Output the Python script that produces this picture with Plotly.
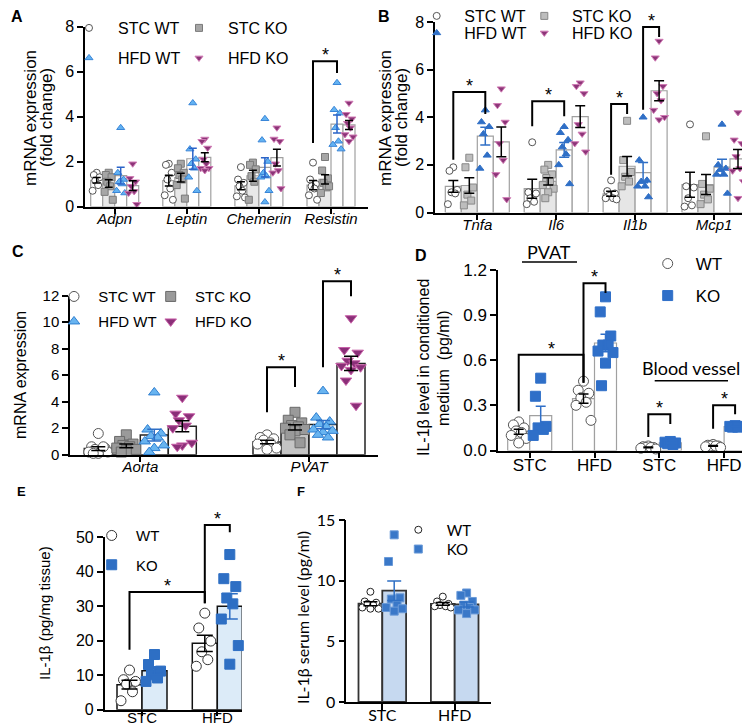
import numpy as np
import plotly.graph_objects as go

W, H = 750, 728
FONT = "Liberation Sans, Arial, sans-serif"
FONT2 = "Lato, Liberation Sans, sans-serif"

# ---------------- DATA ----------------
A_genes = ["Adpn", "Leptin", "Chemerin", "Resistin"]
A_stc_wt = [[1.5, 1.4, 1.3, 1.15, 0.95, 0.7], [1.9, 1.85, 1.5, 1.2, 0.8, 0.5, 0.3],
            [1.75, 1.2, 1.05, 0.9, 0.7, 0.45, 0.4], [1.95, 1.2, 1.0, 0.9, 0.8, 0.5, 0.3]]
A_stc_ko = [[1.5, 1.4, 1.3, 1.1, 0.9, 0.65, 0.3], [1.9, 1.7, 1.5, 1.4, 1.2, 0.95, 0.35],
            [1.95, 1.85, 1.65, 1.35, 1.1, 0.3], [2.2, 1.6, 1.25, 1.05, 0.85, 0.6, 0.9]]
A_hfd_wt = [[3.5, 1.5, 1.2, 1.1, 1.0, 0.7, 0.6], [4.6, 2.55, 2.1, 1.9, 1.7, 1.3, 0.7],
            [3.9, 2.95, 2.0, 1.5, 1.35, 1.3, 0.7, 0.2], [5.5, 4.3, 4.15, 3.5, 2.9, 2.75, 2.55]]
A_hfd_ko = [[1.9, 1.25, 1.1, 0.9, 0.67, 0.6, 0.1], [3.0, 2.9, 2.6, 2.1, 1.9, 1.7, 1.7, 1.6],
            [3.5, 3.0, 2.9, 1.9, 1.6, 1.5, 0.8], [4.6, 4.1, 3.9, 3.7, 3.5, 3.2, 3.1, 2.9]]

B_genes = ["Tnfa", "Il6", "Il1b", "Mcp1"]
B_stc_wt = [[1.9, 1.75, 0.95, 0.85, 0.8, 0.35], [2.95, 0.85, 0.8, 0.6, 0.45, 0.35],
            [1.35, 0.9, 0.8, 0.7, 0.6, 0.6, 0.55], [3.7, 1.1, 1.05, 0.6, 0.3, 0.25]]
B_stc_ko = [[2.3, 1.9, 1.05, 0.75, 0.5, 0.3], [2.0, 1.8, 1.6, 1.45, 1.3, 1.15, 1.0, 0.85, 0.6],
            [3.85, 2.2, 1.7, 1.5, 1.3, 1.1], [3.2, 1.2, 1.0, 0.75, 0.55, 0.35]]
B_hfd_wt = [[4.3, 3.8, 3.6, 3.3, 2.4, 1.85], [3.6, 3.35, 3.05, 2.75, 2.45, 2.0, 1.2],
            [4.0, 2.2, 1.35, 1.3, 1.1, 1.1, 0.65], [3.7, 2.0, 1.85, 1.8, 1.6, 1.6, 0.8]]
B_hfd_ko = [[5.2, 4.5, 3.8, 2.9, 2.2, 1.6, 0.55], [5.45, 5.3, 5.0, 3.7, 3.3, 2.9, 2.55],
            [7.2, 6.5, 5.3, 5.0, 4.7, 4.3, 4.0, 3.9], [4.2, 3.05, 2.9, 2.35, 1.85, 1.75, 1.3, 0.6]]

C_tissues = ["Aorta", "PVAT"]
C_stc_wt = [[1.6, 0.6, 0.5, 0.4, 0.3, 0.2, 0.2, 0.1, 0.1, 0.6], [1.5, 1.3, 1.2, 1.1, 0.9, 0.8, 0.5, 0.4]]
C_stc_ko = [[1.5, 1.0, 0.8, 0.7, 0.6, 0.5, 0.4, 0.3, 0.2], [3.2, 2.6, 2.4, 2.2, 2.1, 2.0, 1.9, 1.8, 1.5, 0.9]]
C_hfd_wt = [[4.7, 1.9, 1.6, 1.4, 1.3, 1.0, 0.7, 0.5, 0.2], [4.8, 2.8, 2.5, 2.3, 2.1, 1.9, 1.8, 1.7, 1.5, 1.3]]
C_hfd_ko = [[4.3, 3.1, 2.9, 2.6, 2.2, 2.0, 0.9, 0.7, 0.6], [10.3, 7.9, 7.7, 7.1, 6.9, 6.7, 6.6, 6.4, 5.6, 3.7]]

D_groups = ["STC", "HFD", "STC", "HFD"]
D_wt = [[0.19, 0.17, 0.15, 0.13, 0.12, 0.10, 0.08, 0.05], [0.46, 0.40, 0.38, 0.35, 0.32, 0.30, 0.20],
        [0.03, 0.025, 0.02, 0.02, 0.02, 0.015, 0.01], [0.04, 0.035, 0.03, 0.03, 0.03, 0.025, 0.02]]
D_ko = [[0.48, 0.36, 0.16, 0.15, 0.14, 0.10], [1.02, 0.92, 0.76, 0.70, 0.70, 0.66, 0.65, 0.58, 0.43],
        [0.06, 0.055, 0.05, 0.045, 0.04], [0.165, 0.16, 0.16, 0.155, 0.155]]

E_groups = ["STC", "HFD"]
E_wt = [[11.5, 8.7, 8.2, 7.4, 5.2, 2.6], [28.0, 23.7, 19.9, 16.8, 14.5, 12.6]]
E_ko = [[16.0, 13.1, 11.2, 10.1, 9.2, 8.2], [45.0, 38.0, 35.7, 32.4, 30.7, 26.3, 18.6, 13.2]]

F_groups = ["STC", "HFD"]
F_wt = [[9.1, 8.3, 8.2, 8.1, 8.0, 7.8, 7.7, 7.7], [8.7, 8.3, 8.1, 8.0, 7.9, 7.9, 7.8]]
F_ko = [[13.8, 11.6, 8.6, 8.5, 8.0, 7.8, 7.7, 7.5], [9.0, 8.8, 8.3, 8.0, 7.8, 7.6, 7.6, 7.3]]

# significance brackets: (group1, series1, y1, group2, series2, y2, top)
A_sig = [(3, 0, 2.82, 3, 2, 5.93, 6.45)]
B_sig = [(0, 0, 2.22, 0, 2, 4.14, 5.06), (1, 0, 3.62, 1, 2, 4.04, 4.67),
         (2, 0, 1.59, 2, 1, 4.14, 4.56), (2, 2, 4.32, 2, 3, 7.37, 7.79)]
C_sig = [(1, 0, 3.2, 1, 1, 5.1, 6.6), (1, 2, 6.6, 1, 3, 11.95, 13.1)]
D_sig = [(0, 0, 0.26, 1, 0, 0.45, 0.636), (1, 0, 0.45, 1, 1, 1.045, 1.11),
         (2, 0, 0.09, 2, 1, 0.176, 0.24), (3, 0, 0.145, 3, 1, 0.24, 0.30)]
E_sig = [(0, 0, 17.4, 1, 0, 30.9, 34.1), (1, 0, 30.9, 1, 1, 51.5, 53.6)]

# ---------------- LAYOUT GEOMETRY (px) ----------------
# name: (axis_left, axis_right, first_group_px, group_spacing_px, bar_px, y_top_px, y_bottom_px, ymax)
GEOM = {
    "A": (77, 360, 106.7, 72.1, 12, 18.5, 198.5, 8),
    "B": (427, 745, 469.3, 78.9, 16, 14, 204.5, 8),
    "C": (62, 370, 132.3, 168.7, 28, 287.7, 446.7, 12),
    "D": (490, 748, 521.7, 64.8, 22, 261.7, 442.5, 1.2),
    "E": (96.7, 234, 134, 75.3, 25, 529.3, 701.7, 50),
    "F": (338.3, 483.3, 374.3, 72.4, 23.8, 512.3, 694, 15),
}
AX = {"A": ("x", "y"), "B": ("x2", "y2"), "C": ("x3", "y3"), "D": ("x4", "y4"),
      "E": ("x5", "y5"), "F": ("x6", "y6")}

JIT = [0.0, -0.6, 0.6, -0.3, 0.3, -0.85, 0.85, 0.0, -0.45, 0.45]

fig = go.Figure()


def bar_w(p):
    g = GEOM[p]
    return g[4] / g[3]


def add_grouped(p, series, edge, ew, cap, jscale=0.8):
    xa, ya = AX[p]
    w = bar_w(p)
    n = len(series)
    for k, s in enumerate(series):
        off = (k - (n - 1) / 2) * w
        vals = s["data"]
        xb = [g + off for g in range(len(vals))]
        means = [float(np.mean(v)) for v in vals]
        sems = [float(np.std(v, ddof=1) / np.sqrt(len(v))) for v in vals]
        fig.add_trace(go.Bar(x=xb, y=means, width=w, xaxis=xa, yaxis=ya,
                             marker=dict(color=s["fill"], line=dict(color=edge, width=ew)),
                             showlegend=False, hoverinfo="skip"))
        xs, ys = [], []
        for g, v in enumerate(vals):
            for i, val in enumerate(v):
                xs.append(g + off + JIT[i % len(JIT)] * w / 2 * jscale)
                ys.append(val)
        fig.add_trace(go.Scatter(x=xs, y=ys, mode="markers", xaxis=xa, yaxis=ya, name=s["name"],
                                 legend=s["legend"], showlegend=True, cliponaxis=False,
                                 marker=dict(symbol=s["sym"], size=s["size"], color=s["mcol"],
                                             line=dict(color=s["mline"], width=1))))
        fig.add_trace(go.Scatter(x=xb, y=means, mode="markers", xaxis=xa, yaxis=ya, showlegend=False,
                                 hoverinfo="skip", marker=dict(size=1, color="rgba(0,0,0,0)"),
                                 error_y=dict(type="data", array=sems, color=s["ecol"], thickness=1.5,
                                              width=cap)))


def add_sig(p, sig, yax=None, nser=4):
    xa, ya = AX[p]
    if yax:
        ya = yax
    w = bar_w(p)
    for g1, k1, y1, g2, k2, y2, top in sig:
        x1 = g1 + (k1 - (nser - 1) / 2) * w
        x2 = g2 + (k2 - (nser - 1) / 2) * w
        fig.add_trace(go.Scatter(x=[x1, x1, x2, x2], y=[y1, top, top, y2], mode="lines", xaxis=xa, yaxis=ya,
                                 line=dict(color="black", width=2), showlegend=False, hoverinfo="skip"))
        fig.add_annotation(x=(x1 + x2) / 2, y=top, xref=xa, yref=ya, text="*", showarrow=False,
                           yanchor="middle", yshift=6, font=dict(size=18, family=FONT, color="black"))


# Panel A
add_grouped("A", [
    dict(name="STC WT", data=A_stc_wt, fill="white", sym="circle", size=7, mcol="white", mline="#555", ecol="black", legend="legend"),
    dict(name="STC KO", data=A_stc_ko, fill="#e8e8e8", sym="square", size=7, mcol="#a6a6a6", mline="#7a7a7a", ecol="black", legend="legend2"),
    dict(name="HFD WT", data=A_hfd_wt, fill="white", sym="triangle-up", size=7, mcol="#62b2f2", mline="#3a86d8", ecol="#2b64c8", legend="legend3"),
    dict(name="HFD KO", data=A_hfd_ko, fill="white", sym="triangle-down", size=7, mcol="#8c3578", mline="#d07ab4", ecol="black", legend="legend4"),
], edge="#a0a0a0", ew=1.2, cap=4)
add_sig("A", A_sig)

# Panel B
add_grouped("B", [
    dict(name="STC WT", data=B_stc_wt, fill="white", sym="circle", size=7, mcol="white", mline="#555", ecol="black", legend="legend5"),
    dict(name="STC KO", data=B_stc_ko, fill="#e6e6e6", sym="square", size=7, mcol="#bdbdbd", mline="#888", ecol="black", legend="legend6"),
    dict(name="HFD WT", data=B_hfd_wt, fill="white", sym="triangle-up", size=7, mcol="#2f6fc6", mline="#2f6fc6", ecol="#2f6fc6", legend="legend7"),
    dict(name="HFD KO", data=B_hfd_ko, fill="white", sym="triangle-down", size=7, mcol="#8c3578", mline="#d07ab4", ecol="black", legend="legend8"),
], edge="#a0a0a0", ew=1.2, cap=5)
add_sig("B", B_sig)

# Panel C
add_grouped("C", [
    dict(name="STC WT", data=C_stc_wt, fill="white", sym="circle", size=10, mcol="white", mline="#555", ecol="black", legend="legend9"),
    dict(name="STC KO", data=C_stc_ko, fill="#c4c4c4", sym="square", size=10, mcol="#9a9a9a", mline="#6a6a6a", ecol="black", legend="legend10"),
    dict(name="HFD WT", data=C_hfd_wt, fill="white", sym="triangle-up", size=10, mcol="#68b4f0", mline="#2f7fd0", ecol="#2f6fc6", legend="legend11"),
    dict(name="HFD KO", data=C_hfd_ko, fill="white", sym="triangle-down", size=10, mcol="#8a2f78", mline="#c860a8", ecol="black", legend="legend12"),
], edge="#222", ew=1.5, cap=7)
add_sig("C", C_sig, yax="y7")

# Panel D
add_grouped("D", [
    dict(name="WT", data=D_wt, fill="white", sym="circle", size=10, mcol="white", mline="#555", ecol="black", legend="legend13"),
    dict(name="KO", data=D_ko, fill="white", sym="square", size=10, mcol="#2f6fc8", mline="#2f6fc8", ecol="#2f6fc8", legend="legend14"),
], edge="#a0a0a0", ew=1.2, cap=5)
add_sig("D", D_sig, nser=2)

# Panel E
add_grouped("E", [
    dict(name="WT", data=E_wt, fill="white", sym="circle", size=10, mcol="white", mline="#333", ecol="black", legend="legend15"),
    dict(name="KO", data=E_ko, fill="#dcebf8", sym="square", size=10, mcol="#2e6fc4", mline="#2e6fc4", ecol="#2e6fc4", legend="legend16"),
], edge="#111", ew=1.5, cap=8)
add_sig("E", E_sig, yax="y8", nser=2)

# Panel F
add_grouped("F", [
    dict(name="WT", data=F_wt, fill="white", sym="circle", size=7, mcol="white", mline="#222", ecol="black", legend="legend17"),
    dict(name="KO", data=F_ko, fill="#c6d9f0", sym="square", size=8, mcol="#3a78c8", mline="#6a9ad8", ecol="#2e6fc4", legend="legend18"),
], edge="#333", ew=1.8, cap=7)

# ---------------- AXES ----------------
base = dict(showline=True, linecolor="black", linewidth=1.5, ticks="outside", ticklen=6, tickwidth=1.5,
            tickcolor="black", showgrid=False, zeroline=False, fixedrange=True)

# panel: (tick labels, y tick values, y font, x font, italic x, y format, x standoff, x ticklen)
TICKS = {
    "A": (A_genes, [0, 2, 4, 6, 8], 16, 15, True, None, -8, 6),
    "B": (B_genes, [0, 2, 4, 6, 8], 16, 15, True, None, -8, 6),
    "C": (C_tissues, [0, 2, 4, 6, 8, 10, 12], 15, 15, True, None, -8, 6),
    "D": (D_groups, [0, 0.3, 0.6, 0.9, 1.2], 17, 17, False, ".1f", -8, 6),
    "E": (E_groups, [0, 10, 20, 30, 40, 50], 16, 15, False, None, -11, 5),
    "F": (F_groups, [0, 5, 10, 15], 16, 16, False, None, -8, 6),
}

lay = {}
for p, (xl, xr, g0, sp, bp, yt, yb, ymax) in GEOM.items():
    xa, ya = AX[p]
    labels, yt_vals, yfs, xfs, ital, fmt, xso, xtl = TICKS[p]
    fam = FONT2 if p == "F" else FONT
    xkey = "xaxis" + xa[1:]
    ykey = "yaxis" + ya[1:]
    lay[xkey] = dict(base, domain=[xl / W, xr / W], range=[(xl - g0) / sp, (xr - g0) / sp], anchor=ya,
                     tickvals=list(range(len(labels))), ticktext=labels, ticklabelstandoff=xso, ticklen=xtl,
                     tickfont=dict(size=xfs, family=fam, color="black", style="italic" if ital else "normal"))
    yd = dict(base, domain=[1 - yb / H, 1 - yt / H], range=[0, ymax], anchor=xa, tickvals=yt_vals,
              tickfont=dict(size=yfs, family=fam, color="black"))
    if fmt:
        yd["tickformat"] = fmt
    lay[ykey] = yd

# overlay axes for brackets that rise above the axis top
gC = GEOM["C"]
sC = (gC[6] - gC[5]) / gC[7]
lay["yaxis7"] = dict(domain=[1 - gC[6] / H, 1 - 262 / H], range=[0, (gC[6] - 262) / sC], anchor="x3",
                     visible=False, fixedrange=True)
gE = GEOM["E"]
sE = (gE[6] - gE[5]) / gE[7]
lay["yaxis8"] = dict(domain=[1 - gE[6] / H, 1 - 495 / H], range=[0, (gE[6] - 495) / sE], anchor="x5",
                     visible=False, fixedrange=True)


# ---------------- LEGENDS (one entry each) ----------------
def leg(xsym, yc, gap, size, family=FONT, top=None):
    iw = max(30, 2 * gap - 10)
    xsym -= 8
    d = dict(x=(xsym - (iw + 10) / 2) / W, xanchor="left", orientation="h",
             itemwidth=iw, font=dict(size=size, family=family, color="black"), bgcolor="rgba(0,0,0,0)",
             borderwidth=0, itemclick=False, itemdoubleclick=False)
    if top is not None:
        d.update(y=1 - top / H, yanchor="top")
    else:
        d.update(y=1 - (yc - 8) / H, yanchor="middle")
    return d


LEG = [
    (89, 28, 29, 16), (199, 28, 29, 16), (89, 58, 29, 16), (199, 58, 29, 16),
    (436.7, 12, 27.6, 16), (544.3, 12, 27.6, 16), (436.7, 33, 27.6, 16), (544.3, 33, 27.6, 16),
    (74, 296.7, 24.3, 15), (170.7, 296.7, 24.3, 15), (74, 321.7, 24.3, 15), (170.7, 321.7, 24.3, 15),
    (667.7, 264, 28, 17), (667.7, 296, 28, 17),
    (111.7, 535.7, 24.3, 15), (111.7, 565, 24.3, 15),
]
for i, (xs_, yc_, gp, fs) in enumerate(LEG):
    lay["legend" if i == 0 else "legend%d" % (i + 1)] = leg(xs_, yc_, gp, fs, top=(-9 if i in (4, 5) else None))
lay["legend17"] = leg(418.3, 530, 28.4, 15, family=FONT2)
lay["legend18"] = leg(418.3, 549.3, 28.4, 15, family=FONT2)

# ---------------- TEXT ----------------
ann = []


def txt(x, y, s, size, angle=0, bold=False, family=FONT):
    # small optical correction: annotation text sits slightly "below" its box centre
    if angle == -90:
        x -= 4
    else:
        y -= 3
    ann.append(dict(x=x / W, y=1 - y / H, xref="paper", yref="paper", text=("<b>%s</b>" % s) if bold else s,
                    showarrow=False, textangle=angle, xanchor="center", yanchor="middle",
                    font=dict(size=size, family=family, color="black")))


# panel letters
txt(9, 12, "A", 16, bold=True)
txt(376, 12, "B", 16, bold=True)
txt(10, 247, "C", 16, bold=True)
txt(413, 250, "D", 16, bold=True)
txt(13, 486, "E", 13, bold=True)
txt(293, 486, "F", 13, bold=True)

# axis titles
txt(26, 110, "mRNA expression", 17, -90)
txt(42, 110, "(fold change)", 17, -90)
txt(381, 110, "mRNA expression", 17, -90)
txt(397, 110, "(fold change)", 17, -90)
txt(16, 367, "mRNA expression", 16, -90)
txt(419, 360, "IL-1β level in conditioned", 16, -90)
txt(439, 360, "medium  (pg/ml)", 16, -90)
txt(40, 605, "IL-1β (pg/mg tissue)", 15, -90)
txt(298, 610, "IL-1β serum level (pg/ml)", 16, -90, family=FONT2)

# D group headings
txt(541, 246.7, "PVAT", 18, family=FONT2)
txt(683, 363, "Blood vessel", 18, family=FONT2)

shapes = [
    dict(type="line", xref="paper", yref="paper", x0=514 / W, x1=569 / W, y0=1 - 254 / H, y1=1 - 254 / H,
         line=dict(color="black", width=1.5)),
    dict(type="line", xref="paper", yref="paper", x0=646.7 / W, x1=720 / W, y0=1 - 372.7 / H, y1=1 - 372.7 / H,
         line=dict(color="black", width=1.5)),
]

fig.update_layout(width=W, height=H, margin=dict(l=0, r=0, t=0, b=0, autoexpand=False),
                  paper_bgcolor="white", plot_bgcolor="rgba(0,0,0,0)", barmode="overlay", showlegend=True,
                  annotations=fig.layout.annotations + tuple(ann), shapes=shapes, **lay)

fig.write_html("out.html")
